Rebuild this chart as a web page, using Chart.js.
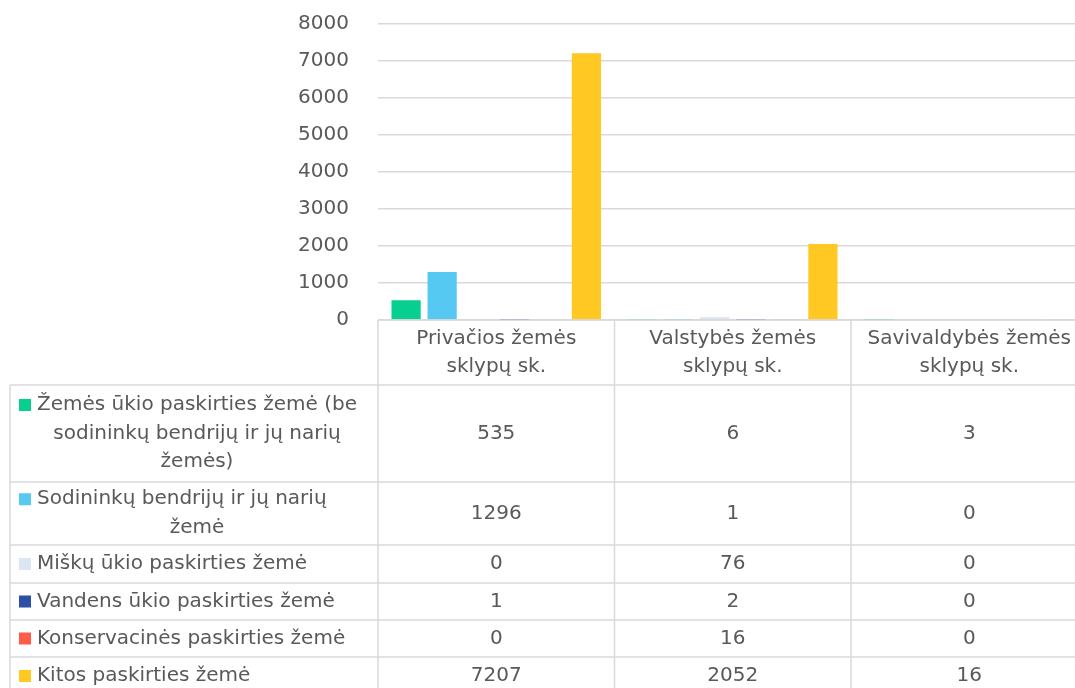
<!DOCTYPE html>
<html>
<head>
<meta charset="utf-8">
<script src="https://cdn.jsdelivr.net/npm/chart.js@4.4.0/dist/chart.umd.min.js"></script>
<style>
  html, body { margin: 0; padding: 0; background: #fff; overflow: hidden; }
  #wrap { width: 1100px; height: 688px; }
</style>
</head>
<body>
<div id="wrap"><canvas id="landcanvas"></canvas></div>
<script>
// kategorijos (stulpeliai)
let categories = [
    ['Privačios žemės', 'sklypų sk.'],
    ['Valstybės žemės', 'sklypų sk.'],
    ['Savivaldybės žemės', 'sklypų sk.']
];

// serijų pavadinimai (su eilučių lūžiais kaip paveiksle)
let seriesNames = [
    ['Žemės ūkio paskirties žemė (be', 'sodininkų bendrijų ir jų narių', 'žemės)'],
    ['Sodininkų bendrijų ir jų narių', 'žemė'],
    ['Miškų ūkio paskirties žemė'],
    ['Vandens ūkio paskirties žemė'],
    ['Konservacinės paskirties žemė'],
    ['Kitos paskirties žemė']
];

let zemesUkio = [535, 6, 3];
let sodininku = [1296, 1, 0];
let misku = [0, 76, 0];
let vandens = [1, 2, 0];
let konservacines = [0, 16, 0];
let kitos = [7207, 2052, 16];

let yTicks = [0, 1000, 2000, 3000, 4000, 5000, 6000, 7000, 8000];

let seriesColors = ['#07CF8F', '#55C9F2', '#DCE5F2', '#2E4FA8', '#FF5B49', '#FFC822'];

let allSeries = [zemesUkio, sodininku, misku, vandens, konservacines, kitos];

// lentelės eilučių aukščiai
let headerHeight = 65;
let rowHeights = [97, 63, 38, 37, 37, 38];
let tableLeft = 10;
let lineH = 28.5;
let textColor = '#595959';
let lineColor = '#D9D9D9';
let font = '20px "DejaVu Sans", Verdana, sans-serif';

const tablePlugin = {
    id: 'dataTable',
    afterDraw(chart) {
        let ctx = chart.ctx;
        let x = chart.scales.x;
        let area = chart.chartArea;
        let top = area.bottom;
        let colW = x.getPixelForValue(1) - x.getPixelForValue(0);
        let left = x.getPixelForValue(0) - colW / 2;
        let right = x.getPixelForValue(categories.length - 1) + colW / 2;
        let bottom = top + headerHeight + rowHeights.reduce((a, b) => a + b, 0);

        ctx.save();
        ctx.strokeStyle = lineColor;
        ctx.lineWidth = 1.5;

        // horizontalios linijos
        ctx.beginPath();
        ctx.moveTo(left, top);
        ctx.lineTo(right, top);
        let y = top + headerHeight;
        ctx.moveTo(tableLeft, y);
        ctx.lineTo(right, y);
        rowHeights.forEach(function(h) {
            y += h;
            ctx.moveTo(tableLeft, y);
            ctx.lineTo(right, y);
        });
        // vertikalios linijos
        ctx.moveTo(tableLeft, top + headerHeight);
        ctx.lineTo(tableLeft, bottom);
        for (let i = 0; i <= categories.length; i++) {
            let cx = left + i * colW;
            ctx.moveTo(cx, top);
            ctx.lineTo(cx, bottom);
        }
        ctx.stroke();

        ctx.font = font;
        ctx.fillStyle = textColor;
        ctx.textBaseline = 'middle';
        ctx.textAlign = 'center';

        // antraštės
        categories.forEach(function(lines, i) {
            let cx = x.getPixelForValue(i);
            let cy = top + headerHeight / 2 - (lines.length - 1) * 28 / 2;
            lines.forEach(function(l, k) {
                ctx.fillText(l, cx, cy + k * 28);
            });
        });

        // eilutės
        let rowTop = top + headerHeight;
        seriesNames.forEach(function(lines, s) {
            let h = rowHeights[s];
            let cy = rowTop + h / 2 - (lines.length - 1) * lineH / 2;
            let mid = (tableLeft + left) / 2 + 3;
            lines.forEach(function(l, k) {
                let ly = cy + k * lineH;
                if (k === 0) {
                    ctx.fillStyle = seriesColors[s];
                    ctx.fillRect(19, ly - 6, 12, 12);
                    ctx.fillStyle = textColor;
                    ctx.textAlign = 'left';
                    ctx.fillText(l, 37, ly);
                } else {
                    ctx.textAlign = 'center';
                    ctx.fillText(l, mid, ly);
                }
            });
            ctx.textAlign = 'center';
            allSeries[s].forEach(function(v, i) {
                ctx.fillText(String(v), x.getPixelForValue(i), rowTop + h / 2);
            });
            rowTop += h;
        });
        ctx.restore();
    }
};

let datasets = seriesNames.map(function(name, i) {
    return {
        label: name.join(' '),
        data: allSeries[i],
        backgroundColor: seriesColors[i],
        borderWidth: 0,
        categoryPercentage: 0.915,
        barPercentage: 0.81
    };
});

let Canvas = document.getElementById('landcanvas').getContext('2d');
let barChart = new Chart(Canvas, {
    type: 'bar',
    data: {
        labels: categories.map(c => c.join(' ')),
        datasets: datasets
    },
    options: {
        responsive: true,
        maintainAspectRatio: false,
        animation: false,
        layout: { padding: { top: 24, right: 12.5, bottom: 368, left: 0 } },
        plugins: {
            legend: { display: false },
            tooltip: { enabled: false }
        },
        scales: {
            x: {
                display: false
            },
            y: {
                min: 0,
                max: 8000,
                afterBuildTicks: function(axis) {
                    axis.ticks = yTicks.map(v => ({ value: v }));
                },
                afterFit: function(axis) {
                    axis.width = 378;
                    axis.paddingTop = 0;
                    axis.paddingBottom = 0;
                },
                border: { display: false },
                grid: {
                    color: lineColor,
                    lineWidth: 1.5,
                    drawTicks: false
                },
                ticks: {
                    padding: 29,
                    color: textColor,
                    font: { family: '"DejaVu Sans", Verdana, sans-serif', size: 20 },
                    callback: function(v) { return String(v); }
                }
            }
        }
    },
    plugins: [tablePlugin]
});
</script>
</body>
</html>
